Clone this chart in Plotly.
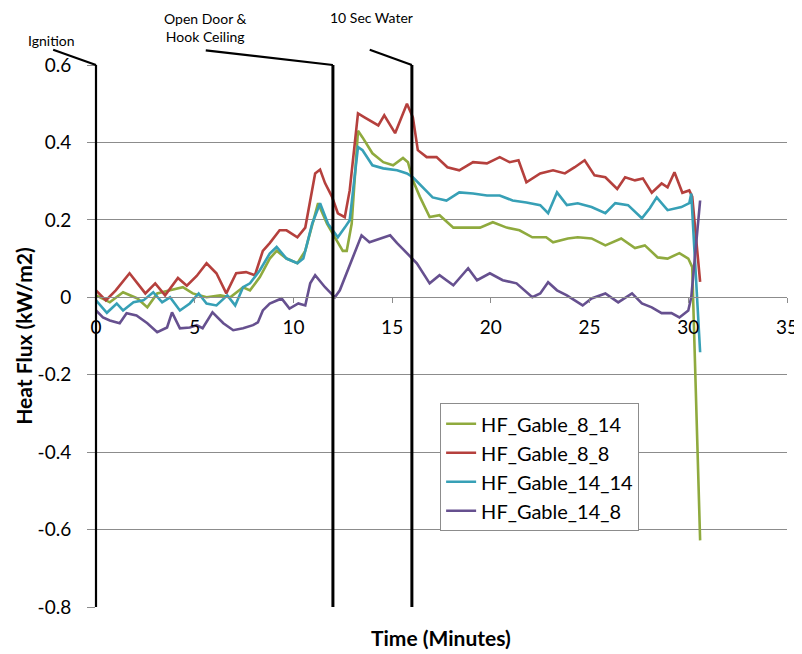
import plotly.graph_objects as go

# ---------------- data ----------------
t_8_14 = [0, 0.7, 1.37, 2.1, 2.6, 3.1, 3.75, 4.4, 4.9, 5.6, 6.3, 6.8, 7.45, 7.8, 8.3, 8.8, 9.15, 9.65,
          10.2, 10.6, 11.25, 11.7, 12.1, 12.5, 12.7, 12.95, 13.27, 13.5, 14.0, 14.55, 15.05, 15.55, 15.8,
          16.05, 16.4, 16.9, 17.4, 18.1, 18.8, 19.45, 20.1, 20.8, 21.45, 22.1, 22.8, 23.15, 23.9, 24.4,
          25.1, 25.8, 26.6, 27.3, 27.8, 28.45, 28.95, 29.55, 30.0, 30.2, 30.6]
hf_8_14 = [0.005, -0.013, 0.013, -0.003, -0.026, 0.01, 0.018, 0.026, 0.01, 0.0, 0.005, 0.0, 0.026, 0.018,
           0.052, 0.10, 0.12, 0.10, 0.088, 0.12, 0.243, 0.19, 0.155, 0.12, 0.12, 0.19, 0.43, 0.413, 0.372,
           0.349, 0.341, 0.36, 0.349, 0.302, 0.26, 0.207, 0.212, 0.18, 0.18, 0.18, 0.194, 0.18, 0.173,
           0.155, 0.155, 0.142, 0.152, 0.155, 0.152, 0.134, 0.152, 0.127, 0.134, 0.103, 0.10, 0.114, 0.10,
           0.078, -0.628]

t_8_8 = [0, 0.5, 1.0, 1.7, 2.5, 3.0, 3.5, 4.15, 4.6, 5.1, 5.6, 6.1, 6.6, 7.1, 7.6, 8.05, 8.45, 8.8, 9.3,
         9.65, 10.2, 10.6, 11.1, 11.35, 11.6, 11.95, 12.25, 12.6, 12.85, 13.27, 13.6, 14.3, 14.6, 15.15,
         15.75, 16.05, 16.3, 16.75, 17.25, 17.8, 18.4, 19.1, 19.8, 20.45, 20.95, 21.4, 21.8, 22.5, 23.15,
         23.75, 24.25, 24.75, 25.25, 25.8, 26.4, 26.8, 27.3, 27.7, 28.15, 28.65, 28.95, 29.3, 29.7, 30.05,
         30.2, 30.6]
hf_8_8 = [0.018, -0.008, 0.018, 0.062, 0.01, 0.036, 0.005, 0.05, 0.03, 0.055, 0.088, 0.062, 0.01, 0.062,
          0.065, 0.057, 0.12, 0.14, 0.173, 0.173, 0.155, 0.18, 0.32, 0.33, 0.295, 0.26, 0.217, 0.207, 0.276,
          0.475, 0.465, 0.444, 0.47, 0.424, 0.50, 0.465, 0.38, 0.362, 0.362, 0.336, 0.328, 0.349, 0.346,
          0.362, 0.349, 0.354, 0.297, 0.32, 0.328, 0.32, 0.336, 0.354, 0.315, 0.31, 0.28, 0.31, 0.302,
          0.307, 0.27, 0.294, 0.284, 0.323, 0.27, 0.276, 0.26, 0.04]

t_14_14 = [0, 0.55, 1.05, 1.37, 1.9, 2.4, 2.9, 3.35, 3.75, 4.25, 4.75, 5.2, 5.6, 6.1, 6.65, 7.05, 7.45,
           7.8, 8.3, 8.8, 9.15, 9.65, 10.2, 10.5, 10.95, 11.35, 11.75, 12.25, 12.6, 12.85, 13.27, 13.5,
           14.0, 14.55, 15.25, 15.75, 16.05, 16.55, 17.05, 17.75, 18.4, 19.1, 19.8, 20.45, 21.1, 21.8,
           22.5, 22.9, 23.35, 23.85, 24.4, 25.1, 25.8, 26.3, 26.95, 27.65, 28.05, 28.4, 28.95, 29.65,
           30.05, 30.15, 30.6]
hf_14_14 = [-0.008, -0.04, -0.016, -0.034, -0.013, -0.008, 0.013, -0.013, 0.0, -0.034, -0.016, 0.01,
            -0.016, -0.021, 0.005, -0.021, 0.026, 0.036, 0.07, 0.113, 0.13, 0.10, 0.088, 0.10, 0.19, 0.243,
            0.19, 0.155, 0.18, 0.199, 0.388, 0.38, 0.341, 0.333, 0.328, 0.32, 0.31, 0.284, 0.258, 0.25,
            0.271, 0.268, 0.263, 0.263, 0.25, 0.245, 0.238, 0.217, 0.271, 0.238, 0.243, 0.233, 0.217,
            0.243, 0.238, 0.204, 0.23, 0.258, 0.225, 0.233, 0.243, 0.268, -0.142]

t_14_8 = [0, 0.35, 0.7, 1.2, 1.55, 2.05, 2.6, 3.1, 3.6, 3.85, 4.25, 4.75, 5.1, 5.4, 5.9, 6.45, 6.95, 7.45,
          7.95, 8.2, 8.45, 8.8, 9.4, 9.8, 10.25, 10.6, 10.85, 11.1, 11.6, 12.1, 12.35, 12.75, 13.1, 13.45,
          13.85, 14.55, 14.9, 15.25, 15.75, 16.25, 16.9, 17.4, 18.1, 18.85, 19.3, 19.95, 20.6, 21.3, 22.1,
          22.5, 22.9, 23.35, 23.85, 24.25, 24.65, 25.1, 25.8, 26.45, 27.15, 27.65, 28.15, 28.65, 29.15,
          29.55, 30.0, 30.15, 30.6]
hf_14_8 = [-0.034, -0.052, -0.06, -0.067, -0.041, -0.047, -0.067, -0.09, -0.078, -0.039, -0.08, -0.078,
           -0.072, -0.08, -0.039, -0.067, -0.085, -0.08, -0.072, -0.065, -0.034, -0.016, -0.003, -0.029,
           -0.016, -0.021, 0.036, 0.057, 0.026, 0.0, 0.018, 0.07, 0.113, 0.16, 0.142, 0.155, 0.16, 0.14,
           0.113, 0.088, 0.036, 0.057, 0.031, 0.075, 0.044, 0.062, 0.044, 0.036, 0.0, 0.01, 0.039, 0.018,
           0.005, -0.008, -0.021, -0.003, 0.01, -0.013, 0.01, -0.016, -0.026, -0.041, -0.041, -0.052,
           -0.034, 0.0, 0.25]

series_names = ["HF_Gable_8_14", "HF_Gable_8_8", "HF_Gable_14_14", "HF_Gable_14_8"]

event_times = [0, 12, 16]
event_labels = ["Ignition", "Open Door &<br>Hook Ceiling", "10 Sec Water"]

x_ticks = [0, 5, 10, 15, 20, 25, 30, 35]
y_ticks = [0.6, 0.4, 0.2, 0, -0.2, -0.4, -0.6, -0.8]

# ---------------- styling ----------------
X_MIN, X_MAX = 0, 35
Y_MIN, Y_MAX = -0.8, 0.6
colors = ["#8FAA3E", "#B5403D", "#37A0B6", "#66508F"]
FONT = "Lato, 'Open Sans', sans-serif"

fig = go.Figure()
for name, tx, vy, c in zip(series_names,
                           [t_8_14, t_8_8, t_14_14, t_14_8],
                           [hf_8_14, hf_8_8, hf_14_14, hf_14_8], colors):
    fig.add_trace(go.Scatter(x=tx, y=vy, mode="lines", name=name,
                             line=dict(color=c, width=2.6)))

# event markers: vertical lines + leader lines + labels (offsets in paper units)
leader_offsets = [(-0.062, 0.028), (-0.184, 0.027), (-0.061, 0.028)]
label_offsets = [(-0.064, 1.046), (-0.185, 1.070), (-0.058, 1.087)]
shapes = []
annotations = []
for i, te in enumerate(event_times):
    px = (te - X_MIN) / (X_MAX - X_MIN)
    lw = 2.2 if i == 0 else 3
    shapes.append(dict(type="line", xref="paper", yref="paper", x0=px, x1=px, y0=0, y1=1,
                       line=dict(color="black", width=lw)))
    dx, dy = leader_offsets[i]
    shapes.append(dict(type="line", xref="paper", yref="paper", x0=px + dx, y0=1 + dy, x1=px, y1=1,
                       line=dict(color="black", width=2.2)))
    lx, ly = label_offsets[i]
    annotations.append(dict(text=event_labels[i], xref="paper", yref="paper", x=px + lx, y=ly,
                            showarrow=False, xanchor="center", yanchor="middle",
                            font=dict(size=14, color="black", family=FONT)))

annotations.append(dict(text="<b>Time (Minutes)</b>", xref="paper", yref="paper", x=0.4995, y=-0.057,
                        showarrow=False, xanchor="center", yanchor="middle",
                        font=dict(size=21, color="black", family=FONT)))
annotations.append(dict(text="<b>Heat Flux (kW/m2)</b>", xref="paper", yref="paper", x=-0.106, y=0.5,
                        showarrow=False, xanchor="center", yanchor="middle", textangle=-90,
                        font=dict(size=21, color="black", family=FONT)))

zero_pos = (0 - Y_MIN) / (Y_MAX - Y_MIN)

# the page body adds an 8px offset, so the figure is drawn 8px smaller and shifted margins
fig.update_layout(
    width=794, height=646,
    margin=dict(l=88, r=15, t=57, b=47, autoexpand=False),
    paper_bgcolor="white", plot_bgcolor="white",
    font=dict(family=FONT, color="black"),
    shapes=shapes, annotations=annotations,
    legend=dict(x=0.498, y=0.376, xanchor="left", yanchor="top",
                bgcolor="white", bordercolor="#8c8c8c", borderwidth=1,
                font=dict(size=20, family=FONT), tracegroupgap=0, itemwidth=30),
    xaxis=dict(range=[X_MIN, X_MAX], tickvals=x_ticks, ticktext=[str(v) for v in x_ticks],
               anchor="free", position=zero_pos, showgrid=False, zeroline=False,
               showline=True, linecolor="#8c8c8c", linewidth=1,
               ticks="outside", ticklen=5, tickcolor="#8c8c8c", ticklabelstandoff=8,
               tickfont=dict(size=19, family=FONT)),
    yaxis=dict(range=[Y_MIN, Y_MAX], tickvals=y_ticks, ticktext=[f"{v:g}" for v in y_ticks],
               showgrid=True, gridcolor="#8c8c8c", gridwidth=1, zeroline=False, showline=False,
               ticks="outside", ticklen=8, tickcolor="#8c8c8c", ticklabelstandoff=12,
               tickfont=dict(size=19, family=FONT)),
)

fig.write_html("out.html")
